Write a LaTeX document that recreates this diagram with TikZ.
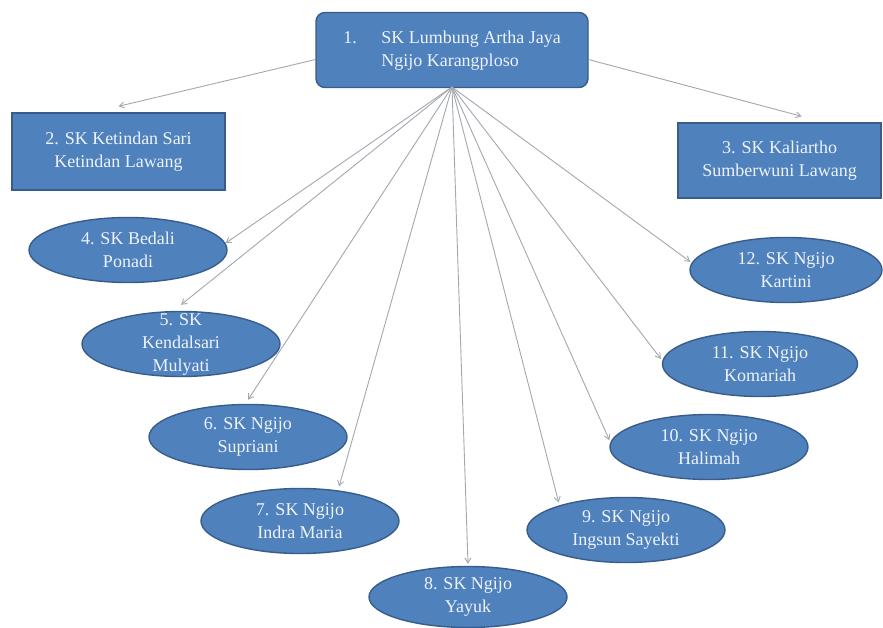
\documentclass[tikz,border=0pt]{standalone}
\usepackage{fontspec}
\setmainfont{Liberation Serif}
\usetikzlibrary{shapes.geometric,arrows.meta}
\definecolor{boxfill}{HTML}{4F81BD}
\definecolor{boxline}{HTML}{385D8A}
\definecolor{txt}{HTML}{EEF3FB}
\definecolor{arrowc}{HTML}{A3A8B0}
\tikzset{
  x=1pt, y=-1pt,
  base/.style={fill=boxfill, draw=boxline, line width=1.4pt, text=txt,
    font=\fontsize{18}{23}\selectfont, align=center, inner sep=0pt},
  rbox/.style={base, rectangle, rounded corners=9pt},
  sbox/.style={base, rectangle},
  ell/.style={base, ellipse, minimum width=198pt, minimum height=65pt},
  lbl/.style={text=txt, font=\fontsize{18}{23}\selectfont, align=center, inner sep=0pt},
  arr/.style={draw=arrowc, line width=0.9pt, -{Straight Barb[length=5pt,width=6pt]}}
}
\begin{document}
\begin{tikzpicture}
\useasboundingbox (0,0) rectangle (883,628);
\fill[white] (0,0) rectangle (883,628);
% top node
\node[rbox, minimum width=272pt, minimum height=75pt] (n1) at (452,50)
  {\begin{tabular}{@{}l@{}}\makebox[38pt][l]{1.}SK Lumbung Artha Jaya\\\hspace*{38pt}Ngijo Karangploso\end{tabular}};
% rectangles
\node[sbox, minimum width=213pt, minimum height=77pt] (n2) at (118.5,151.5) {2. SK Ketindan Sari\\Ketindan Lawang};
\node[sbox, minimum width=203pt, minimum height=75pt] (n3) at (779.5,160.5) {3. SK Kaliartho\\Sumberwuni Lawang};
% ellipses
\node[ell, label={[lbl]center:{4. SK Bedali\\Ponadi}}] (n4) at (128,250) {};
\node[ell, label={[lbl]center:{5. SK\\Kendalsari\\Mulyati}}] (n5) at (181,344) {};
\node[ell, label={[lbl]center:{6. SK Ngijo\\Supriani}}] (n6) at (248,437) {};
\node[ell, label={[lbl]center:{7. SK Ngijo\\Indra Maria}}] (n7) at (300,521) {};
\node[ell, minimum height=61pt, label={[lbl]center:{8. SK Ngijo\\Yayuk}}] (n8) at (468,597) {};
\node[ell, label={[lbl]center:{9. SK Ngijo\\Ingsun Sayekti}}] (n9) at (626,530) {};
\node[ell, label={[lbl]center:{10. SK Ngijo\\Halimah}}] (n10) at (709,447) {};
\node[ell, minimum width=195pt, label={[lbl]center:{11. SK Ngijo\\Komariah}}] (n11) at (760,364) {};
\node[ell, minimum width=192pt, label={[lbl]center:{12. SK Ngijo\\Kartini}}] (n12) at (786,270) {};
% connectors
\coordinate (hub) at (452,87);
\draw[arr] (n1.184) -- ([yshift=6pt]n2.north);
\draw[arr] (n1.356) -- ([yshift=6pt]n3.60);
\draw[arr] (hub) -- (n4.4);
\draw[arr] (hub) -- ([yshift=6pt]n5.north);
\draw[arr] (hub) -- ([yshift=4pt]n6.north);
\draw[arr] (hub) -- ([yshift=4pt]n7.38);
\draw[arr] (hub) -- ([yshift=2pt]n8.north);
\draw[arr] (hub) -- ([yshift=3pt]n9.160);
\draw[arr] (hub) -- ([xshift=-2pt]n10.176);
\draw[arr] (hub) -- ([xshift=-2pt]n11.177);
\draw[arr] (hub) -- ([xshift=-2pt]n12.175);
\end{tikzpicture}
\end{document}
